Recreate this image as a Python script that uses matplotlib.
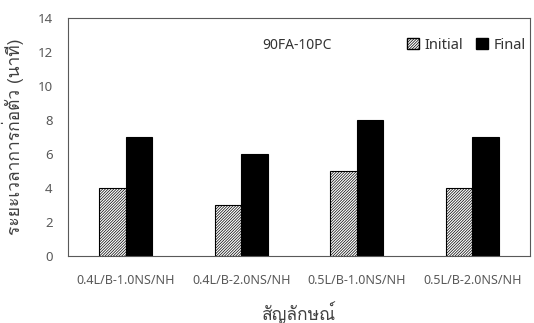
import matplotlib
matplotlib.use("Agg")
import matplotlib.pyplot as plt
import matplotlib.font_manager as fm
from matplotlib.ft2font import FT2Font
from matplotlib.patches import Patch
import numpy as np

# ---------------------------------------------------------------------------
# data
# ---------------------------------------------------------------------------
categories = ["0.4L/B-1.0NS/NH", "0.4L/B-2.0NS/NH", "0.5L/B-1.0NS/NH", "0.5L/B-2.0NS/NH"]
initial = [4, 3, 5, 4]
final = [7, 6, 8, 7]
series_names = ["Initial", "Final"]
title_text = "90FA-10PC"
ylabel = "ระยะเวลาการก่อตัว (นาที)"
xlabel = "สัญลักษณ์"


def find_thai_font() -> str | None:
    seen = set()
    for f in fm.fontManager.ttflist:
        if f.name in seen:
            continue
        seen.add(f.name)
        try:
            if 0x0E2A in FT2Font(f.fname).get_charmap():
                return f.name
        except Exception:
            continue
    return None


thai = find_thai_font()
base = ["Noto Sans", "DejaVu Sans"]
fam = ([thai] if thai else []) + base
plt.rcParams["font.family"] = base
plt.rcParams["hatch.linewidth"] = 0.5

GRAY = "#595959"
HATCH = "////////////"

fig = plt.figure(figsize=(5.34, 3.23), dpi=100)
ax = fig.add_axes([0.127, 0.207, 0.866, 0.737])

x = np.arange(len(categories))
w = 0.23
ax.bar(x - w / 2, initial, w, color="white", edgecolor="black", hatch=HATCH,
       linewidth=0.8, label=series_names[0])
ax.bar(x + w / 2, final, w, color="black", edgecolor="black",
       linewidth=0.8, label=series_names[1])

ax.set_xlim(-0.5, len(categories) - 0.5)
ax.set_ylim(0, 14)
ax.set_yticks(range(0, 15, 2))
ax.set_xticks(x)
ax.set_xticklabels(categories)
ax.tick_params(axis="both", length=0, colors=GRAY)
ax.tick_params(axis="x", pad=13, labelsize=9)
ax.tick_params(axis="y", pad=11, labelsize=9.5)
for s in ax.spines.values():
    s.set_color(GRAY)
    s.set_linewidth(0.8)

ax.set_ylabel(ylabel, family=fam, fontsize=12.5, color="#404040", labelpad=10)
ax.set_xlabel(xlabel, family=fam, fontsize=12.5, color="#404040", labelpad=10)

ax.text(0.495, 0.885, title_text, transform=ax.transAxes, fontsize=10,
        color="#333333", ha="center", va="center")

handles = [Patch(facecolor="white", edgecolor="black", hatch=HATCH, label=series_names[0]),
           Patch(facecolor="black", edgecolor="black", label=series_names[1])]
ax.legend(handles=handles, loc="upper right", bbox_to_anchor=(1.01, 0.955), ncol=2,
          frameon=False, fontsize=10.5, handlelength=0.8, handleheight=0.8,
          handletextpad=0.4, columnspacing=0.9, borderaxespad=0.2,
          labelcolor="#333333")

fig.savefig("out.png", dpi=100)
